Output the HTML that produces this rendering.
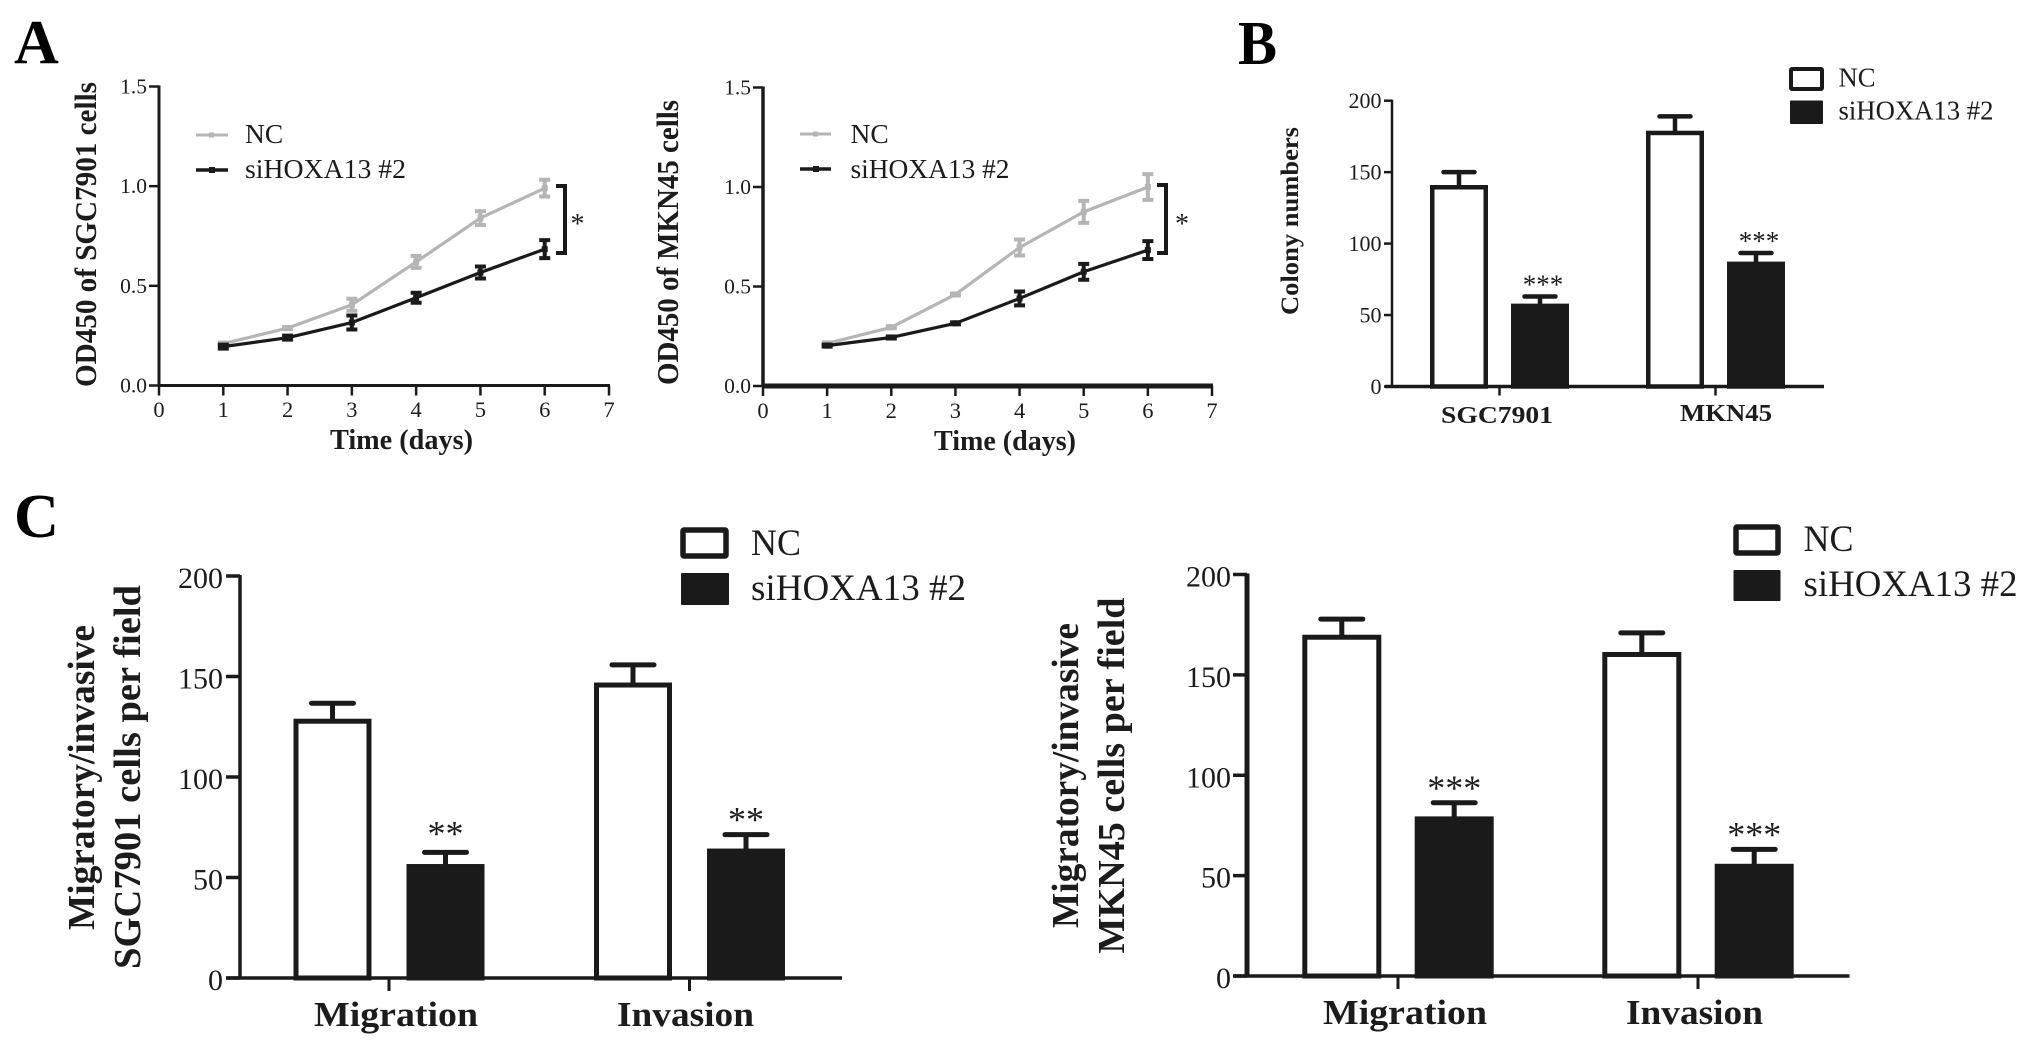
<!DOCTYPE html>
<html lang="en">
<head>
<meta charset="utf-8">
<title>HOXA13 knockdown figure</title>
<style>
html,body{margin:0;padding:0;background:#fff;width:2031px;height:1055px;overflow:hidden}
svg{display:block}
text{font-family:"Liberation Serif",serif;fill:#1c1c1c}
.b{font-weight:bold}
.p{fill:#000}
</style>
</head>
<body>
<svg id="fig" xmlns="http://www.w3.org/2000/svg" width="2031" height="1055" viewBox="0 0 2031 1055">
<rect x="0" y="0" width="2031" height="1055" fill="#fff"/>

<text class="b p" x="14" y="63" font-size="62">A</text>
<text class="b p" x="1238" y="64" font-size="62" textLength="39" lengthAdjust="spacingAndGlyphs">B</text>
<text class="b p" x="14" y="537" font-size="62" textLength="45" lengthAdjust="spacingAndGlyphs">C</text>

<!-- Panel A left -->
<text class="b" transform="translate(96,387) rotate(-90)" font-size="31" textLength="305" lengthAdjust="spacingAndGlyphs">OD450 of SGC7901 cells</text>
<text class="b" x="330" y="449" font-size="28" textLength="143" lengthAdjust="spacingAndGlyphs">Time (days)</text>
<g>
<line x1="196" y1="135" x2="228" y2="135" stroke="#b5b5b5" stroke-width="3"/>
<rect x="209" y="132.500" width="5" height="5" fill="#b5b5b5"/>
<text x="245" y="143" font-size="27.500">NC</text>
</g>
<g>
<line x1="196" y1="170" x2="228" y2="170" stroke="#1a1a1a" stroke-width="3.500"/>
<rect x="209" y="167" width="6" height="6" fill="#1a1a1a"/>
<text x="245" y="178" font-size="27.500" textLength="161" lengthAdjust="spacingAndGlyphs">siHOXA13 #2</text>
</g>
<path d="M556 186H565V253H556" fill="none" stroke="#1a1a1a" stroke-width="4"/>
<text x="577.500" y="233" font-size="28" text-anchor="middle">*</text>

<!-- Panel A right -->
<text class="b" transform="translate(678,385) rotate(-90)" font-size="31" textLength="285" lengthAdjust="spacingAndGlyphs">OD450 of MKN45 cells</text>
<text class="b" x="934" y="450" font-size="28" textLength="142" lengthAdjust="spacingAndGlyphs">Time (days)</text>
<g>
<line x1="800" y1="134" x2="831" y2="134" stroke="#b5b5b5" stroke-width="3"/>
<rect x="813" y="131.500" width="5" height="5" fill="#b5b5b5"/>
<text x="850.500" y="143" font-size="27.500">NC</text>
</g>
<g>
<line x1="800" y1="169" x2="831" y2="169" stroke="#1a1a1a" stroke-width="3.500"/>
<rect x="813" y="166" width="6" height="6" fill="#1a1a1a"/>
<text x="850.500" y="178" font-size="27.500" textLength="159" lengthAdjust="spacingAndGlyphs">siHOXA13 #2</text>
</g>
<path d="M1157 185H1166V253H1157" fill="none" stroke="#1a1a1a" stroke-width="4"/>
<text x="1182" y="233" font-size="28" text-anchor="middle">*</text>

<!-- Panel B -->
<text class="b" transform="translate(1298,315) rotate(-90)" font-size="25" textLength="188" lengthAdjust="spacingAndGlyphs">Colony numbers</text>
<g>
<rect x="1791" y="69" width="31" height="20" rx="1" fill="#fff" stroke="#1a1a1a" stroke-width="4"/>
<text x="1838.500" y="86.500" font-size="27" textLength="37" lengthAdjust="spacingAndGlyphs">NC</text>
</g>
<g>
<rect x="1790" y="100.500" width="33" height="23.500" rx="1" fill="#1a1a1a"/>
<text x="1838.500" y="119.500" font-size="27" textLength="155" lengthAdjust="spacingAndGlyphs">siHOXA13 #2</text>
</g>

<!-- Panel C left -->
<text class="b" transform="translate(94,930) rotate(-90)" font-size="38" textLength="305" lengthAdjust="spacingAndGlyphs">Migratory/invasive</text>
<text class="b" transform="translate(140,969) rotate(-90)" font-size="38" textLength="384" lengthAdjust="spacingAndGlyphs">SGC7901 cells per field</text>
<g>
<rect x="683" y="530" width="43" height="26" rx="1" fill="#fff" stroke="#1a1a1a" stroke-width="5.500"/>
<text x="751" y="555" font-size="37" textLength="50" lengthAdjust="spacingAndGlyphs">NC</text>
</g>
<g>
<rect x="681" y="573" width="48" height="32" rx="1" fill="#1a1a1a"/>
<text x="751" y="600" font-size="37" textLength="215" lengthAdjust="spacingAndGlyphs">siHOXA13 #2</text>
</g>

<!-- Panel C right -->
<text class="b" transform="translate(1078,928) rotate(-90)" font-size="38" textLength="305" lengthAdjust="spacingAndGlyphs">Migratory/invasive</text>
<text class="b" transform="translate(1124,953.500) rotate(-90)" font-size="38" textLength="356" lengthAdjust="spacingAndGlyphs">MKN45 cells per field</text>
<g>
<rect x="1736" y="527" width="42" height="26" rx="1" fill="#fff" stroke="#1a1a1a" stroke-width="5.500"/>
<text x="1803.500" y="551" font-size="37" textLength="50" lengthAdjust="spacingAndGlyphs">NC</text>
</g>
<g>
<rect x="1733.500" y="570" width="47" height="31" rx="1" fill="#1a1a1a"/>
<text x="1803.500" y="596" font-size="37" textLength="214" lengthAdjust="spacingAndGlyphs">siHOXA13 #2</text>
</g>
</svg>

<script>
// ---------- Panel A data ----------
const days = [1, 2, 3, 4, 5, 6];
const dayTicks = [0, 1, 2, 3, 4, 5, 6, 7];
const odTicks = [0, 0.5, 1, 1.5];
const odTickLabels = ['0.0', '0.5', '1.0', '1.5'];

const a1Nc = [0.21, 0.288, 0.405, 0.62, 0.84, 0.99];
const a1NcErr = [0.005, 0.005, 0.03, 0.03, 0.035, 0.042];
const a1Si = [0.195, 0.24, 0.316, 0.44, 0.567, 0.684];
const a1SiErr = [0.01, 0.01, 0.035, 0.025, 0.03, 0.045];

const a2Nc = [0.214, 0.295, 0.46, 0.696, 0.875, 1.0];
const a2NcErr = [0.005, 0.005, 0.005, 0.04, 0.055, 0.065];
const a2Si = [0.203, 0.244, 0.315, 0.44, 0.574, 0.683];
const a2SiErr = [0.005, 0.005, 0.005, 0.035, 0.04, 0.045];

// ---------- Panel B data ----------
const bCategories = ['SGC7901', 'MKN45'];
const bTicks = [0, 50, 100, 150, 200];
const bNc = [141, 179];
const bNcErr = [9, 10];
const bSi = [58, 87.4];
const bSiErr = [5, 6];
const bStars = ['***', '***'];

// ---------- Panel C data ----------
const cCategories = ['Migration', 'Invasion'];
const cTicks = [0, 50, 100, 150, 200];
const c1Nc = [129, 147];
const c1NcErr = [7.7, 8.8];
const c1Si = [56.7, 64.4];
const c1SiErr = [5.8, 6.9];
const c1Stars = ['**', '**'];
const c2Nc = [170, 161.4];
const c2NcErr = [7.8, 9.5];
const c2Si = [79.5, 55.9];
const c2SiErr = [6.8, 7.2];
const c2Stars = ['***', '***'];

const INK = '#1a1a1a';
const GREY = '#b5b5b5';
const NS = 'http://www.w3.org/2000/svg';
const fig = document.getElementById('fig');

function mk(tag, attrs, parent) {
  const el = document.createElementNS(NS, tag);
  for (const k in attrs) el.setAttribute(k, attrs[k]);
  (parent || fig).appendChild(el);
  return el;
}

function linearScale(d0, d1, r0, r1) {
  return function (v) { return r0 + (v - d0) * (r1 - r0) / (d1 - d0); };
}

function drawYAxis(prefix, y, ticks, labels, o) {
  const axis = mk('line', {x1: o.axisX, x2: o.axisX, y1: y(ticks[ticks.length - 1]) - 1, y2: y(ticks[0]) + 1, stroke: INK, 'stroke-width': o.axisW});
  
  
  ticks.forEach(function (t, i) {
    const tick = mk('line', {x1: o.axisX - o.tickLen, x2: o.axisX, y1: y(t), y2: y(t), stroke: INK, 'stroke-width': o.tickW});
    
    
    const label = mk('text', {x: o.labelX, y: y(t) + o.labelDy, 'font-size': o.labelSize, 'text-anchor': 'end'});
    label.textContent = labels[i];
    
    
  });
}

function drawSeries(prefix, name, x, y, values, errs, color) {
  const group = mk('g', {});
  
  
  const d = values.map(function (v, i) { return (i ? 'L' : 'M') + x(days[i]) + ' ' + y(v); }).join('');
  const line = mk('path', {d: d, fill: 'none', stroke: color, 'stroke-width': 3.2, 'stroke-linejoin': 'round'}, group);
  
  
  values.forEach(function (v, i) {
    const cx = x(days[i]);
    const hi = y(v + errs[i]);
    const lo = y(v - errs[i]);
    const bar = mk('path', {d: 'M' + (cx - 5.5) + ' ' + hi + 'H' + (cx + 5.5) + 'M' + cx + ' ' + hi + 'V' + lo + 'M' + (cx - 5.5) + ' ' + lo + 'H' + (cx + 5.5), fill: 'none', stroke: color, 'stroke-width': 4}, group);
    
    
    const pt = mk('rect', {x: cx - 3, y: y(v) - 3, width: 6, height: 6, fill: color}, group);
    
    
  });
}

function drawLineChart(prefix, o, nc, ncErr, si, siErr) {
  const x = linearScale(0, 7, o.x0, o.x7);
  const y = linearScale(0, 1.5, o.y0, o.y15);
  drawSeries(prefix, 'nc', x, y, nc, ncErr, GREY);
  drawSeries(prefix, 'sihoxa13', x, y, si, siErr, INK);
  drawYAxis(prefix, y, odTicks, odTickLabels, {axisX: o.x0, axisW: o.leftW, tickLen: 10, tickW: 2.5, labelX: o.labelX, labelDy: 7, labelSize: 21.5});
  const xAxis = mk('line', {x1: o.x0 - 1, x2: o.x7 + 1, y1: o.y0, y2: o.y0, stroke: INK, 'stroke-width': o.bottomW});
  
  
  dayTicks.forEach(function (t) {
    const tick = mk('line', {x1: x(t), x2: x(t), y1: o.y0, y2: o.y0 + 10, stroke: INK, 'stroke-width': 2.5});
    
    
    const label = mk('text', {x: x(t), y: o.tickBase, 'font-size': 22.5, 'text-anchor': 'middle'});
    label.textContent = String(t);
    
    
  });
}

function drawBarChart(prefix, o, cats, nc, ncErr, si, siErr, stars) {
  const y = linearScale(0, 200, o.y0, o.y200);
  function barX(group, series) { return o.g0 + o.step * group + (series ? o.off : -o.off); }
  cats.forEach(function (cat, g) {
    [[nc, ncErr, 'nc'], [si, siErr, 'sihoxa13']].forEach(function (s, k) {
      const v = s[0][g];
      const e = s[1][g];
      const cx = barX(g, k);
      const errBar = mk('path', {d: 'M' + (cx - o.capW / 2) + ' ' + y(v + e) + 'H' + (cx + o.capW / 2) + 'M' + cx + ' ' + y(v + e) + 'V' + y(v), fill: 'none', stroke: INK, 'stroke-width': o.stroke, 'stroke-linecap': 'round'});
      
      
      const hw = o.barW / 2 - o.stroke / 2;
      const top = y(v) + o.stroke / 2;
      const bar = mk('rect', {x: cx - hw, y: top, width: hw * 2, height: y(0) - top, fill: k ? INK : '#fff', stroke: INK, 'stroke-width': o.stroke});
      
      
    });
    const star = mk('text', {x: barX(g, 1) + o.starDx, y: y(si[g] + siErr[g]) - o.starGap[g], 'font-size': o.starSize, 'text-anchor': 'middle'});
    star.textContent = stars[g];
    
    
    const tick = mk('line', {x1: o.g0 + o.step * g, x2: o.g0 + o.step * g, y1: o.y0, y2: o.y0 + o.xTickLen, stroke: INK, 'stroke-width': o.xTickW});
    
    
    const label = mk('text', {x: o.catX[g], y: o.catBase[g], 'font-size': o.catSize, 'font-weight': 'bold', textLength: o.catLen[g], lengthAdjust: 'spacingAndGlyphs'});
    label.textContent = cat;
    
    
  });
  drawYAxis(prefix, y, o.ticks, o.ticks.map(String), {axisX: o.axisX, axisW: o.leftW, tickLen: o.yTickLen, tickW: o.yTickW, labelX: o.labelX, labelDy: o.labelDy, labelSize: o.labelSize});
  const xAxis = mk('line', {x1: o.xStart, x2: o.xEnd, y1: o.y0, y2: o.y0, stroke: INK, 'stroke-width': o.bottomW});
  
  
}

drawLineChart('a1', {x0: 159, x7: 609, y0: 385.500, y15: 86.500, leftW: 3, bottomW: 3, labelX: 147, tickBase: 417}, a1Nc, a1NcErr, a1Si, a1SiErr);
drawLineChart('a2', {x0: 763, x7: 1212, y0: 386, y15: 87.500, leftW: 3.500, bottomW: 5, labelX: 751, tickBase: 418}, a2Nc, a2NcErr, a2Si, a2SiErr);

drawBarChart('b', {y0: 386.500, y200: 100.700, g0: 1499.500, step: 216, off: 40.500, barW: 58, capW: 31, stroke: 4.500, starDx: 3, starSize: 27, starGap: [3, 3],
  xTickLen: 9, xTickW: 2.500, catX: [1441, 1680], catBase: [423, 421], catSize: 24, catLen: [112, 92],
  ticks: bTicks, axisX: 1392, leftW: 2.500, yTickLen: 8, yTickW: 2.500, labelX: 1381.500, labelDy: 7.500, labelSize: 22, xStart: 1385, xEnd: 1824, bottomW: 3.500},
  bCategories, bNc, bNcErr, bSi, bSiErr, bStars);

drawBarChart('c1', {y0: 978, y200: 576, g0: 389, step: 300.500, off: 56.500, barW: 78, capW: 42, stroke: 5, starDx: 0, starSize: 36, starGap: [7, 3],
  xTickLen: 13, xTickW: 3, catX: [314, 617], catBase: [1026, 1026], catSize: 35, catLen: [164, 137],
  ticks: cTicks, axisX: 240, leftW: 3.500, yTickLen: 14, yTickW: 3.500, labelX: 223, labelDy: 12, labelSize: 30, xStart: 226.500, xEnd: 842, bottomW: 3.500},
  cCategories, c1Nc, c1NcErr, c1Si, c1SiErr, c1Stars);

drawBarChart('c2', {y0: 976, y200: 574.500, g0: 1398, step: 300, off: 56.200, barW: 79, capW: 42, stroke: 5, starDx: 0, starSize: 36, starGap: [3, 3],
  xTickLen: 13, xTickW: 3, catX: [1323, 1626], catBase: [1024, 1024], catSize: 35, catLen: [164, 137],
  ticks: cTicks, axisX: 1247, leftW: 5, yTickLen: 14, yTickW: 3.500, labelX: 1231, labelDy: 12, labelSize: 30, xStart: 1233, xEnd: 1849.500, bottomW: 3.500},
  cCategories, c2Nc, c2NcErr, c2Si, c2SiErr, c2Stars);
</script>
</body>
</html>
